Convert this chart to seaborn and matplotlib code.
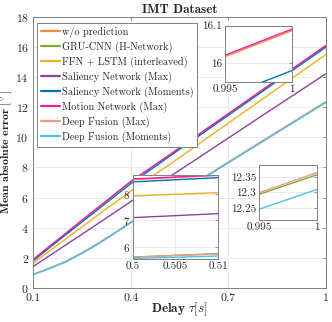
import matplotlib
matplotlib.use("Agg")
import matplotlib.pyplot as plt
import seaborn as sns
import pandas as pd

# delay values (s) and mean absolute error (deg)
delay = [0.1, 0.15, 0.2, 0.25, 0.3, 0.35, 0.4, 0.5, 0.51, 0.6, 0.7, 0.8, 0.9, 0.995, 1.0]

methods = ['w/o prediction', 'GRU-CNN (H-Network)', 'FFN + LSTM (interleaved)',
           'Saliency Network (Max)', 'Saliency Network (Moments)',
           'Motion Network (Max)', 'Deep Fusion (Max)', 'Deep Fusion (Moments)']

wo_pred = [1.86, 2.74, 3.60, 4.47, 5.33, 6.19, 7.05, 8.53, 8.68, 10.04, 11.55, 13.06, 14.58, 16.017, 16.087]
gru_cnn = [0.90, 1.30, 1.75, 2.32, 2.95, 3.64, 4.36, 5.62, 5.75, 7.00, 8.35, 9.69, 11.02, 12.294, 12.358]
ffn_lstm = [1.65, 2.45, 3.25, 4.05, 4.85, 5.64, 6.42, 7.91, 8.04, 9.42, 10.94, 12.46, 13.98, 15.42, 15.49]
sal_max = [1.42, 2.13, 2.85, 3.56, 4.28, 5.00, 5.73, 7.10, 7.25, 8.52, 9.95, 11.38, 12.80, 14.15, 14.22]
sal_mom = [1.80, 2.66, 3.52, 4.37, 5.22, 6.07, 6.92, 8.44, 8.60, 9.95, 11.46, 12.97, 14.48, 15.91, 15.98]
motion_max = [1.89, 2.76, 3.62, 4.49, 5.35, 6.21, 7.07, 8.55, 8.70, 10.06, 11.57, 13.08, 14.60, 16.021, 16.091]
fusion_max = [0.91, 1.31, 1.76, 2.33, 2.96, 3.65, 4.37, 5.62, 5.74, 7.00, 8.35, 9.70, 11.03, 12.299, 12.365]
fusion_mom = [0.88, 1.28, 1.72, 2.29, 2.92, 3.61, 4.33, 5.57, 5.66, 6.96, 8.30, 9.64, 10.98, 12.245, 12.31]

colors = ['#F58A3C', '#77AC30', '#EDB120', '#8E3FA3', '#0072BD',
          '#F0209E', '#EE9A86', '#4DBEEE']

series = [wo_pred, gru_cnn, ffn_lstm, sal_max, sal_mom, motion_max, fusion_max, fusion_mom]
rows = []
for m, vals in zip(methods, series):
    for d, v in zip(delay, vals):
        rows.append({'delay': d, 'mae': v, 'method': m})
df = pd.DataFrame(rows)
pal = dict(zip(methods, colors))

sns.set_theme(style='whitegrid')
plt.rcParams['font.family'] = ['cmr10', 'DejaVu Serif']
plt.rcParams['mathtext.fontset'] = 'cm'
plt.rcParams['axes.formatter.use_mathtext'] = True
plt.rcParams['axes.unicode_minus'] = False

fig = plt.figure(figsize=(3.32, 3.22), dpi=100)
ax = fig.add_axes([0.0994, 0.1056, 0.8825, 0.8424])

def style_axes(a, fs, pad=2):
    a.set_facecolor('white')
    a.grid(True, color='#e6e6e6', linewidth=0.6)
    for s in a.spines.values():
        s.set_color('#808080')
        s.set_linewidth(0.7)
    a.tick_params(direction='in', length=2.5, width=0.6, color='#808080',
                  labelsize=fs, pad=pad, top=True, right=True)
    a.set_xlabel('')
    a.set_ylabel('')

sns.lineplot(data=df, x='delay', y='mae', hue='method', hue_order=methods,
             palette=pal, linewidth=1.0, ax=ax, legend=True)
ax.set_xlim(0.1, 1)
ax.set_ylim(0, 18)
ax.set_xticks([0.1, 0.4, 0.7, 1])
ax.set_xticklabels(['0.1', '0.4', '0.7', '1'])
ax.set_yticks(range(0, 19, 2))
style_axes(ax, 8.5, pad=4)
ax.tick_params(axis='y', pad=3)
ax.set_xlabel(r'$\mathbf{Delay}\ \tau[s]$', fontsize=9.5)
ax.set_ylabel(r'$\mathbf{Mean\ absolute\ error}\ [^\circ]$', fontsize=8.5)
ax.xaxis.set_label_coords(0.5, -0.045)
ax.yaxis.set_label_coords(-0.064, 0.5)
ax.set_title('IMT Dataset', fontsize=9.5, family='cmb10', pad=3)

leg = ax.legend(loc='upper left', bbox_to_anchor=(0.1114, 0.9286),
                bbox_transform=fig.transFigure, borderaxespad=0, fontsize=7.4,
                frameon=True, fancybox=False, framealpha=1, edgecolor='#808080',
                labelspacing=0.36, handlelength=1.9, handletextpad=0.2,
                borderpad=0.35)
leg.get_frame().set_linewidth(0.7)
for h in leg.get_lines():
    h.set_linewidth(1.6)

# inset: 0.995 - 1, top group
in1 = fig.add_axes([0.678, 0.7463, 0.2018, 0.1739])
sns.lineplot(data=df, x='delay', y='mae', hue='method', hue_order=methods,
             palette=pal, linewidth=1.0, ax=in1, legend=False)
in1.set_xlim(0.995, 1)
in1.set_ylim(15.95, 16.1)
in1.set_xticks([0.995, 1])
in1.set_xticklabels(['0.995', '1'])
in1.set_yticks([16, 16.1])
in1.set_yticklabels(['16', '16.1'])
style_axes(in1, 8)

# inset: 0.5 - 0.51
in2 = fig.add_axes([0.3997, 0.1957, 0.257, 0.2609])
sns.lineplot(data=df, x='delay', y='mae', hue='method', hue_order=methods,
             palette=pal, linewidth=1.0, ax=in2, legend=False)
in2.set_xlim(0.5, 0.51)
in2.set_ylim(5.55, 8.7)
in2.set_xticks([0.5, 0.505, 0.51])
in2.set_xticklabels(['0.5', '0.505', '0.51'])
in2.set_yticks([6, 7, 8])
style_axes(in2, 8)

# inset: 0.995 - 1, bottom group
in3 = fig.add_axes([0.780, 0.3168, 0.1747, 0.1708])
sns.lineplot(data=df, x='delay', y='mae', hue='method', hue_order=methods,
             palette=pal, linewidth=1.0, ax=in3, legend=False)
in3.set_xlim(0.995, 1)
in3.set_ylim(12.21, 12.39)
in3.set_xticks([0.995, 1])
in3.set_xticklabels(['0.995', '1'])
in3.set_yticks([12.25, 12.3, 12.35])
in3.set_yticklabels(['12.25', '12.3', '12.35'])
style_axes(in3, 8)

fig.savefig('out.png', dpi=100)
